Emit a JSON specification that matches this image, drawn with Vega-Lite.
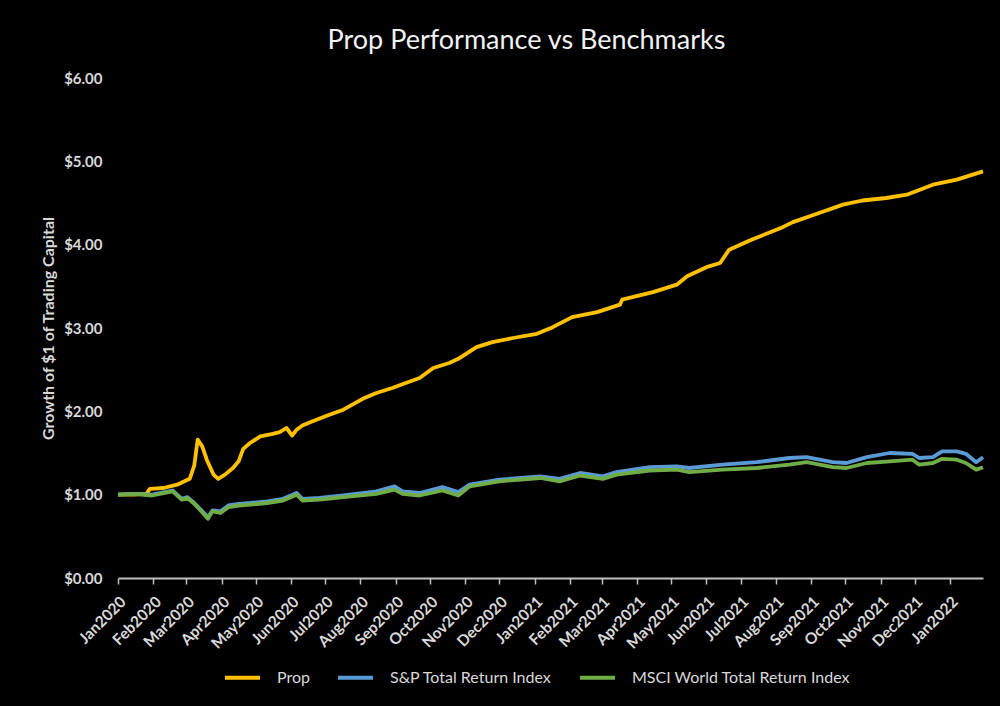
{
  "$schema": "https://vega.github.io/schema/vega-lite/v6.json",
  "width": 865,
  "height": 500,
  "autosize": {"type": "none"},
  "padding": {"left": 118, "top": 78, "right": 17, "bottom": 128},
  "background": "#000000",
  "title": {"text": "Prop Performance vs Benchmarks", "color": "#f2f2f2", "fontSize": 27, "font": "Lato", "fontWeight": "normal", "anchor": "middle", "dx": -24, "offset": 16},
  "config": {"view": {"stroke": null}, "axis": {"grid": false}},
  "data": {"values": [
    {"d": "2020-01-01", "s": "Prop", "v": 1.00},
    {"d": "2020-01-15", "s": "Prop", "v": 1.00},
    {"d": "2020-01-26", "s": "Prop", "v": 1.01},
    {"d": "2020-01-29", "s": "Prop", "v": 1.07},
    {"d": "2020-02-10", "s": "Prop", "v": 1.08},
    {"d": "2020-02-22", "s": "Prop", "v": 1.12},
    {"d": "2020-03-04", "s": "Prop", "v": 1.19},
    {"d": "2020-03-08", "s": "Prop", "v": 1.35},
    {"d": "2020-03-11", "s": "Prop", "v": 1.66},
    {"d": "2020-03-15", "s": "Prop", "v": 1.58},
    {"d": "2020-03-19", "s": "Prop", "v": 1.42},
    {"d": "2020-03-25", "s": "Prop", "v": 1.24},
    {"d": "2020-03-29", "s": "Prop", "v": 1.19},
    {"d": "2020-04-04", "s": "Prop", "v": 1.24},
    {"d": "2020-04-11", "s": "Prop", "v": 1.32},
    {"d": "2020-04-16", "s": "Prop", "v": 1.40},
    {"d": "2020-04-20", "s": "Prop", "v": 1.55},
    {"d": "2020-04-26", "s": "Prop", "v": 1.62},
    {"d": "2020-05-05", "s": "Prop", "v": 1.70},
    {"d": "2020-05-16", "s": "Prop", "v": 1.73},
    {"d": "2020-05-22", "s": "Prop", "v": 1.75},
    {"d": "2020-05-28", "s": "Prop", "v": 1.80},
    {"d": "2020-06-02", "s": "Prop", "v": 1.71},
    {"d": "2020-06-06", "s": "Prop", "v": 1.78},
    {"d": "2020-06-11", "s": "Prop", "v": 1.83},
    {"d": "2020-06-20", "s": "Prop", "v": 1.88},
    {"d": "2020-07-03", "s": "Prop", "v": 1.95},
    {"d": "2020-07-17", "s": "Prop", "v": 2.02},
    {"d": "2020-08-03", "s": "Prop", "v": 2.15},
    {"d": "2020-08-15", "s": "Prop", "v": 2.22},
    {"d": "2020-08-29", "s": "Prop", "v": 2.28},
    {"d": "2020-09-08", "s": "Prop", "v": 2.33},
    {"d": "2020-09-22", "s": "Prop", "v": 2.40},
    {"d": "2020-10-04", "s": "Prop", "v": 2.52},
    {"d": "2020-10-18", "s": "Prop", "v": 2.58},
    {"d": "2020-10-26", "s": "Prop", "v": 2.63},
    {"d": "2020-11-11", "s": "Prop", "v": 2.77},
    {"d": "2020-11-25", "s": "Prop", "v": 2.83},
    {"d": "2020-12-13", "s": "Prop", "v": 2.88},
    {"d": "2021-01-03", "s": "Prop", "v": 2.93},
    {"d": "2021-01-17", "s": "Prop", "v": 3.01},
    {"d": "2021-02-03", "s": "Prop", "v": 3.13},
    {"d": "2021-02-25", "s": "Prop", "v": 3.19},
    {"d": "2021-03-17", "s": "Prop", "v": 3.28},
    {"d": "2021-03-19", "s": "Prop", "v": 3.34},
    {"d": "2021-04-15", "s": "Prop", "v": 3.43},
    {"d": "2021-05-06", "s": "Prop", "v": 3.52},
    {"d": "2021-05-15", "s": "Prop", "v": 3.62},
    {"d": "2021-06-01", "s": "Prop", "v": 3.73},
    {"d": "2021-06-13", "s": "Prop", "v": 3.78},
    {"d": "2021-06-21", "s": "Prop", "v": 3.94},
    {"d": "2021-07-09", "s": "Prop", "v": 4.05},
    {"d": "2021-08-07", "s": "Prop", "v": 4.21},
    {"d": "2021-08-16", "s": "Prop", "v": 4.27},
    {"d": "2021-09-08", "s": "Prop", "v": 4.38},
    {"d": "2021-09-29", "s": "Prop", "v": 4.48},
    {"d": "2021-10-16", "s": "Prop", "v": 4.53},
    {"d": "2021-11-06", "s": "Prop", "v": 4.56},
    {"d": "2021-11-24", "s": "Prop", "v": 4.60},
    {"d": "2021-12-17", "s": "Prop", "v": 4.72},
    {"d": "2022-01-07", "s": "Prop", "v": 4.78},
    {"d": "2022-01-30", "s": "Prop", "v": 4.88},

    {"d": "2020-01-01", "s": "S&P Total Return Index", "v": 1.00},
    {"d": "2020-01-15", "s": "S&P Total Return Index", "v": 1.01},
    {"d": "2020-01-31", "s": "S&P Total Return Index", "v": 1.00},
    {"d": "2020-02-18", "s": "S&P Total Return Index", "v": 1.05},
    {"d": "2020-02-26", "s": "S&P Total Return Index", "v": 0.95},
    {"d": "2020-03-02", "s": "S&P Total Return Index", "v": 0.97},
    {"d": "2020-03-08", "s": "S&P Total Return Index", "v": 0.90},
    {"d": "2020-03-13", "s": "S&P Total Return Index", "v": 0.83},
    {"d": "2020-03-20", "s": "S&P Total Return Index", "v": 0.73},
    {"d": "2020-03-24", "s": "S&P Total Return Index", "v": 0.81},
    {"d": "2020-03-31", "s": "S&P Total Return Index", "v": 0.80},
    {"d": "2020-04-07", "s": "S&P Total Return Index", "v": 0.87},
    {"d": "2020-04-16", "s": "S&P Total Return Index", "v": 0.89},
    {"d": "2020-04-26", "s": "S&P Total Return Index", "v": 0.90},
    {"d": "2020-05-11", "s": "S&P Total Return Index", "v": 0.92},
    {"d": "2020-05-25", "s": "S&P Total Return Index", "v": 0.95},
    {"d": "2020-06-06", "s": "S&P Total Return Index", "v": 1.02},
    {"d": "2020-06-11", "s": "S&P Total Return Index", "v": 0.95},
    {"d": "2020-06-26", "s": "S&P Total Return Index", "v": 0.96},
    {"d": "2020-07-17", "s": "S&P Total Return Index", "v": 0.99},
    {"d": "2020-08-15", "s": "S&P Total Return Index", "v": 1.04},
    {"d": "2020-08-31", "s": "S&P Total Return Index", "v": 1.10},
    {"d": "2020-09-07", "s": "S&P Total Return Index", "v": 1.04},
    {"d": "2020-09-22", "s": "S&P Total Return Index", "v": 1.02},
    {"d": "2020-10-12", "s": "S&P Total Return Index", "v": 1.09},
    {"d": "2020-10-26", "s": "S&P Total Return Index", "v": 1.03},
    {"d": "2020-11-05", "s": "S&P Total Return Index", "v": 1.12},
    {"d": "2020-12-01", "s": "S&P Total Return Index", "v": 1.18},
    {"d": "2021-01-06", "s": "S&P Total Return Index", "v": 1.22},
    {"d": "2021-01-23", "s": "S&P Total Return Index", "v": 1.19},
    {"d": "2021-02-10", "s": "S&P Total Return Index", "v": 1.26},
    {"d": "2021-03-02", "s": "S&P Total Return Index", "v": 1.22},
    {"d": "2021-03-14", "s": "S&P Total Return Index", "v": 1.27},
    {"d": "2021-04-12", "s": "S&P Total Return Index", "v": 1.33},
    {"d": "2021-05-06", "s": "S&P Total Return Index", "v": 1.34},
    {"d": "2021-05-17", "s": "S&P Total Return Index", "v": 1.32},
    {"d": "2021-06-15", "s": "S&P Total Return Index", "v": 1.36},
    {"d": "2021-07-15", "s": "S&P Total Return Index", "v": 1.39},
    {"d": "2021-08-13", "s": "S&P Total Return Index", "v": 1.44},
    {"d": "2021-08-28", "s": "S&P Total Return Index", "v": 1.45},
    {"d": "2021-09-20", "s": "S&P Total Return Index", "v": 1.39},
    {"d": "2021-10-02", "s": "S&P Total Return Index", "v": 1.38},
    {"d": "2021-10-20", "s": "S&P Total Return Index", "v": 1.45},
    {"d": "2021-11-09", "s": "S&P Total Return Index", "v": 1.50},
    {"d": "2021-11-29", "s": "S&P Total Return Index", "v": 1.49},
    {"d": "2021-12-05", "s": "S&P Total Return Index", "v": 1.44},
    {"d": "2021-12-17", "s": "S&P Total Return Index", "v": 1.45},
    {"d": "2021-12-25", "s": "S&P Total Return Index", "v": 1.52},
    {"d": "2022-01-07", "s": "S&P Total Return Index", "v": 1.52},
    {"d": "2022-01-15", "s": "S&P Total Return Index", "v": 1.49},
    {"d": "2022-01-24", "s": "S&P Total Return Index", "v": 1.39},
    {"d": "2022-01-30", "s": "S&P Total Return Index", "v": 1.45},

    {"d": "2020-01-01", "s": "MSCI World Total Return Index", "v": 1.00},
    {"d": "2020-01-15", "s": "MSCI World Total Return Index", "v": 1.01},
    {"d": "2020-01-31", "s": "MSCI World Total Return Index", "v": 0.99},
    {"d": "2020-02-18", "s": "MSCI World Total Return Index", "v": 1.04},
    {"d": "2020-02-26", "s": "MSCI World Total Return Index", "v": 0.94},
    {"d": "2020-03-02", "s": "MSCI World Total Return Index", "v": 0.96},
    {"d": "2020-03-08", "s": "MSCI World Total Return Index", "v": 0.89},
    {"d": "2020-03-13", "s": "MSCI World Total Return Index", "v": 0.82},
    {"d": "2020-03-20", "s": "MSCI World Total Return Index", "v": 0.71},
    {"d": "2020-03-24", "s": "MSCI World Total Return Index", "v": 0.80},
    {"d": "2020-03-31", "s": "MSCI World Total Return Index", "v": 0.78},
    {"d": "2020-04-07", "s": "MSCI World Total Return Index", "v": 0.85},
    {"d": "2020-04-16", "s": "MSCI World Total Return Index", "v": 0.87},
    {"d": "2020-04-26", "s": "MSCI World Total Return Index", "v": 0.88},
    {"d": "2020-05-11", "s": "MSCI World Total Return Index", "v": 0.90},
    {"d": "2020-05-25", "s": "MSCI World Total Return Index", "v": 0.93},
    {"d": "2020-06-06", "s": "MSCI World Total Return Index", "v": 1.00},
    {"d": "2020-06-11", "s": "MSCI World Total Return Index", "v": 0.93},
    {"d": "2020-06-26", "s": "MSCI World Total Return Index", "v": 0.94},
    {"d": "2020-07-17", "s": "MSCI World Total Return Index", "v": 0.97},
    {"d": "2020-08-15", "s": "MSCI World Total Return Index", "v": 1.01},
    {"d": "2020-08-31", "s": "MSCI World Total Return Index", "v": 1.06},
    {"d": "2020-09-07", "s": "MSCI World Total Return Index", "v": 1.01},
    {"d": "2020-09-22", "s": "MSCI World Total Return Index", "v": 0.99},
    {"d": "2020-10-12", "s": "MSCI World Total Return Index", "v": 1.05},
    {"d": "2020-10-26", "s": "MSCI World Total Return Index", "v": 0.99},
    {"d": "2020-11-05", "s": "MSCI World Total Return Index", "v": 1.10},
    {"d": "2020-12-01", "s": "MSCI World Total Return Index", "v": 1.16},
    {"d": "2021-01-06", "s": "MSCI World Total Return Index", "v": 1.20},
    {"d": "2021-01-23", "s": "MSCI World Total Return Index", "v": 1.16},
    {"d": "2021-02-10", "s": "MSCI World Total Return Index", "v": 1.23},
    {"d": "2021-03-02", "s": "MSCI World Total Return Index", "v": 1.19},
    {"d": "2021-03-14", "s": "MSCI World Total Return Index", "v": 1.24},
    {"d": "2021-04-12", "s": "MSCI World Total Return Index", "v": 1.29},
    {"d": "2021-05-06", "s": "MSCI World Total Return Index", "v": 1.30},
    {"d": "2021-05-17", "s": "MSCI World Total Return Index", "v": 1.27},
    {"d": "2021-06-15", "s": "MSCI World Total Return Index", "v": 1.30},
    {"d": "2021-07-15", "s": "MSCI World Total Return Index", "v": 1.32},
    {"d": "2021-08-13", "s": "MSCI World Total Return Index", "v": 1.36},
    {"d": "2021-08-28", "s": "MSCI World Total Return Index", "v": 1.39},
    {"d": "2021-09-20", "s": "MSCI World Total Return Index", "v": 1.33},
    {"d": "2021-10-02", "s": "MSCI World Total Return Index", "v": 1.32},
    {"d": "2021-10-20", "s": "MSCI World Total Return Index", "v": 1.38},
    {"d": "2021-11-09", "s": "MSCI World Total Return Index", "v": 1.40},
    {"d": "2021-11-29", "s": "MSCI World Total Return Index", "v": 1.42},
    {"d": "2021-12-05", "s": "MSCI World Total Return Index", "v": 1.36},
    {"d": "2021-12-17", "s": "MSCI World Total Return Index", "v": 1.38},
    {"d": "2021-12-25", "s": "MSCI World Total Return Index", "v": 1.43},
    {"d": "2022-01-07", "s": "MSCI World Total Return Index", "v": 1.42},
    {"d": "2022-01-15", "s": "MSCI World Total Return Index", "v": 1.38},
    {"d": "2022-01-24", "s": "MSCI World Total Return Index", "v": 1.30},
    {"d": "2022-01-30", "s": "MSCI World Total Return Index", "v": 1.33}
  ]},
  "mark": {"type": "line", "strokeWidth": 3.8, "strokeJoin": "round"},
  "encoding": {
    "x": {
      "field": "d", "type": "temporal",
      "scale": {"type": "utc", "domain": [{"year": 2020, "month": 1, "date": 1, "utc": true}, {"year": 2022, "month": 1, "date": 30, "utc": true}]},
      "axis": {"title": null, "labelExpr": "utcFormat(datum.value, '%b%Y')", "tickCount": {"interval": "month", "step": 1}, "labelAngle": -45, "labelFont": "Lato", "labelFontWeight": "bold", "labelFontSize": 15.5, "labelColor": "#d9d9d9", "domainColor": "#bfbfbf", "domainWidth": 2, "tickColor": "#bfbfbf", "tickWidth": 1.5, "tickSize": 6, "labelPadding": 10, "labelOverlap": false, "labelFlush": false, "labelBound": false}
    },
    "y": {
      "field": "v", "type": "quantitative",
      "scale": {"domain": [0, 6]},
      "axis": {"title": "Growth of $1 of Trading Capital", "format": "$.2f", "values": [0, 1, 2, 3, 4, 5, 6], "ticks": false, "domain": false, "labelFont": "Lato", "labelFontWeight": "bold", "labelFontSize": 15, "labelColor": "#d9d9d9", "labelPadding": 16, "titleFont": "Lato", "titleFontWeight": "bold", "titleFontSize": 16, "titleColor": "#d9d9d9", "titlePadding": 7}
    },
    "color": {
      "field": "s", "type": "nominal",
      "scale": {"domain": ["Prop", "S&P Total Return Index", "MSCI World Total Return Index"], "range": ["#FFC000", "#5B9BD5", "#70AD47"]},
      "legend": {"title": null, "orient": "none", "direction": "horizontal", "legendX": 105, "legendY": 580, "symbolType": "stroke", "symbolSize": 1225, "symbolStrokeWidth": 4, "labelFont": "Lato", "labelFontSize": 16, "labelColor": "#d9d9d9", "labelOffset": 15, "columnPadding": 20, "labelLimit": 400}
    }
  }
}
